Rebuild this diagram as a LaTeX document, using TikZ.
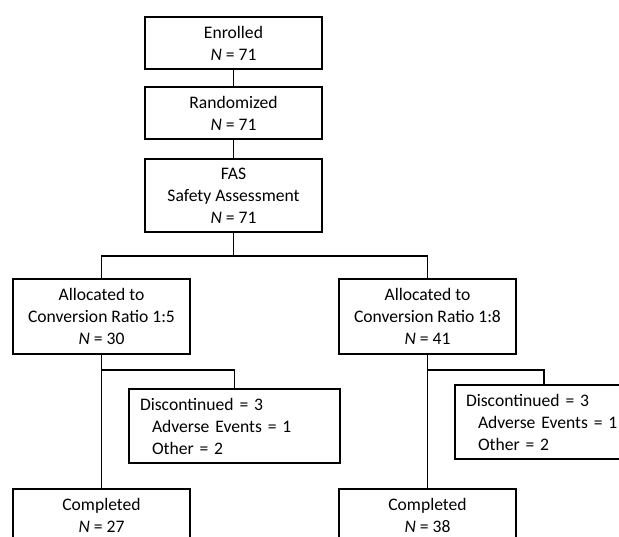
\documentclass[tikz,border=0pt]{standalone}
\usepackage{fontspec}
\setmainfont{Carlito}

\tikzset{
  box/.style={draw, line width=1.8pt, minimum width=177pt, minimum height=52pt,
    align=center, inner sep=0pt, font=\fontsize{17.6}{22}\selectfont},
  dropbox/.style={box, minimum width=0pt, minimum height=74pt, align=left, inner xsep=11pt},
  link/.style={line width=1.8pt}
}

\begin{document}
\begin{tikzpicture}[x=1pt,y=-1pt]
  \useasboundingbox (0,0) rectangle (619,537);
  % caixas de cima
  \node[box] (enrolled) at (233.5,43) {Enrolled\\\textit{N} = 71};
  \node[box] (randomized) at (233.5,113) {Randomized\\\textit{N} = 71};
  \node[box, minimum height=73pt] (fas) at (233.5,195.5) {FAS\\Safety Assessment\\\textit{N} = 71};
  % bracos
  \node[box, minimum height=75pt] (alloc1) at (101.5,316.5) {Allocated to\\Conversion Ratio 1:5\\\textit{N} = 30};
  \node[box, minimum height=75pt] (alloc2) at (427.5,316.5) {Allocated to\\Conversion Ratio 1:8\\\textit{N} = 41};
  \node[dropbox, text width=189pt] (disc1) at (234.5,426) {Discontinued = 3\\\hspace*{12pt}Adverse Events = 1\\\hspace*{12pt}Other = 2};
  \node[dropbox, text width=156pt] (disc2) at (544,422) {Discontinued = 3\\\hspace*{12pt}Adverse Events = 1\\\hspace*{12pt}Other = 2};
  \node[box] (done1) at (101.5,515) {Completed\\\textit{N} = 27};
  \node[box] (done2) at (427.5,515) {Completed\\\textit{N} = 38};
  % ligacoes
  \draw[link] (enrolled) -- (randomized);
  \draw[link] (randomized) -- (fas);
  \coordinate (split) at (233.5,256);
  \draw[link] (fas.south) -- (split) -| (alloc1.north);
  \draw[link] (split) -| (alloc2.north);
  \draw[link] (alloc1.south) -- (done1.north);
  \draw[link] (alloc2.south) -- (done2.north);
  \coordinate (drop1) at (101.5,370);
  \coordinate (drop2) at (427.5,370);
  \draw[link] (drop1) -| (disc1.north);
  \draw[link] (drop2) -| (disc2.north);
\end{tikzpicture}
\end{document}
